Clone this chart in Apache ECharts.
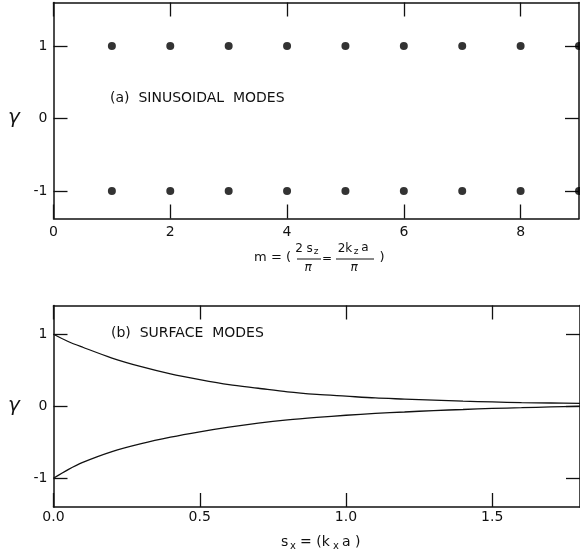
<!DOCTYPE html>
<html><head><meta charset="utf-8">
<script src="https://cdn.jsdelivr.net/npm/echarts@6/dist/echarts.min.js"></script>
<style>html,body{margin:0;padding:0;background:#fff}#c{width:580px;height:558px}</style>
</head><body><div id="c"></div>
<script>
// ---- data ----
const modeNumbers = [1, 2, 3, 4, 5, 6, 7, 8, 9];
const sinusoidalUpper = [1, 1, 1, 1, 1, 1, 1, 1, 1];
const sinusoidalLower = [-1, -1, -1, -1, -1, -1, -1, -1, -1];

const sxValues = [0, 0.05, 0.1, 0.2, 0.3, 0.4, 0.5, 0.6, 0.7, 0.8, 0.9, 1.0, 1.1, 1.2, 1.3, 1.4, 1.5, 1.6, 1.7, 1.8];
const surfaceUpper = [1.0, 0.90, 0.82, 0.67, 0.55, 0.45, 0.37, 0.30, 0.25, 0.20, 0.165, 0.14, 0.115, 0.10, 0.085, 0.07, 0.06, 0.05, 0.045, 0.04];
const surfaceLower = [-1.0, -0.88, -0.78, -0.63, -0.52, -0.43, -0.355, -0.29, -0.235, -0.19, -0.155, -0.125, -0.10, -0.08, -0.06, -0.045, -0.03, -0.02, -0.01, 0.0];

const topXTicks = [0, 2, 4, 6, 8];
const bottomXTicks = [0, 0.5, 1.0, 1.5];
const gammaTicks = [-1, 0, 1];

// ---- chart ----
const INK = '#111';
const FONT = 'DejaVu Sans';
const chart = echarts.init(document.getElementById('c'), null, {renderer: 'canvas'});

function zip(xs, ys) { return xs.map((x, i) => [x, ys[i]]); }

function xAx(grid, pos, min, max, ticks, labels, fmt, margin) {
  return {
    type: 'value', gridIndex: grid, position: pos, min: min, max: max,
    splitLine: {show: false},
    axisLine: {show: true, onZero: false, lineStyle: {color: INK, width: 1.5}},
    axisTick: {show: true, inside: true, length: 14, customValues: ticks, lineStyle: {color: INK, width: 1.3}},
    axisLabel: {show: labels, customValues: ticks, margin: margin, color: INK, fontSize: 14, fontFamily: FONT, formatter: fmt}
  };
}
function yAx(grid, pos, min, max, labels) {
  return {
    type: 'value', gridIndex: grid, position: pos, min: min, max: max,
    splitLine: {show: false},
    axisLine: {show: true, onZero: false, lineStyle: {color: INK, width: 1.5}},
    axisTick: {show: true, inside: true, length: 14, customValues: gammaTicks, lineStyle: {color: INK, width: 1.3}},
    axisLabel: {show: labels, customValues: gammaTicks, margin: 6, color: INK, fontSize: 14, fontFamily: FONT,
      formatter: v => (v < 0 ? '-' + Math.abs(v) : String(v))}
  };
}

const txt = (x, y, s, size, align, italic) => ({
  type: 'text', x: x, y: y,
  style: {text: s, font: (italic ? 'italic ' : '') + size + 'px "' + FONT + '"', fill: INK, align: align || 'left', verticalAlign: 'middle'}
});
const bar = (x1, x2, y) => ({type: 'line', shape: {x1: x1, y1: y, x2: x2, y2: y}, style: {stroke: INK, lineWidth: 1}});

chart.setOption({
  animation: false,
  backgroundColor: '#fff',
  grid: [
    {left: 53.5, width: 525.5, top: 2.5, height: 216},
    {left: 53.5, width: 526.5, top: 305.5, height: 201.5}
  ],
  xAxis: [
    xAx(0, 'bottom', 0, 9, topXTicks, true, v => String(v), 7),
    xAx(0, 'top', 0, 9, topXTicks, false, null, 7),
    xAx(1, 'bottom', 0, 1.8, bottomXTicks, true, v => v.toFixed(1), 3),
    xAx(1, 'top', 0, 1.8, bottomXTicks, false, null, 3)
  ],
  yAxis: [
    yAx(0, 'left', -1.38, 1.6, true),
    yAx(0, 'right', -1.38, 1.6, false),
    yAx(1, 'left', -1.4, 1.4, true),
    yAx(1, 'right', -1.4, 1.4, false)
  ],
  series: [
    {type: 'scatter', xAxisIndex: 0, yAxisIndex: 0, data: zip(modeNumbers, sinusoidalUpper), symbolSize: 8, itemStyle: {color: '#000'}, clip: false},
    {type: 'scatter', xAxisIndex: 0, yAxisIndex: 0, data: zip(modeNumbers, sinusoidalLower), symbolSize: 8, itemStyle: {color: '#000'}, clip: false},
    {type: 'line', xAxisIndex: 2, yAxisIndex: 2, data: zip(sxValues, surfaceUpper), smooth: 0.3, showSymbol: false, lineStyle: {color: INK, width: 1.3}},
    {type: 'line', xAxisIndex: 2, yAxisIndex: 2, data: zip(sxValues, surfaceLower), smooth: 0.3, showSymbol: false, lineStyle: {color: INK, width: 1.3}}
  ],
  graphic: [
    txt(110, 98, '(a)  SINUSOIDAL  MODES', 14),
    txt(111, 333, '(b)  SURFACE  MODES', 14),
    txt(14, 118, 'γ', 20, 'center', true),
    txt(14, 406, 'γ', 20, 'center', true),
    // m = ( 2s_z/π = 2k_z a/π )
    txt(291, 258, 'm = (', 13, 'right'),
    txt(304, 249, '2 s', 12, 'center'),
    txt(316, 252, 'z', 9, 'center'),
    bar(297, 321, 259),
    txt(308, 268, 'π', 12, 'center', true),
    txt(327, 259, '=', 12, 'center'),
    txt(345, 249, '2k', 12, 'center'),
    txt(356, 252, 'z', 9, 'center'),
    txt(365, 248, 'a', 12, 'center'),
    bar(336, 374, 259),
    txt(354, 268, 'π', 12, 'center', true),
    txt(382, 258, ')', 13, 'center'),
    // s_x = (k_x a)
    txt(281, 542, 's', 14),
    txt(290, 546, 'x', 10),
    txt(300, 542, '= (k', 14),
    txt(333, 546, 'x', 10),
    txt(342, 542, 'a )', 14)
  ]
});
</script>
</body></html>
